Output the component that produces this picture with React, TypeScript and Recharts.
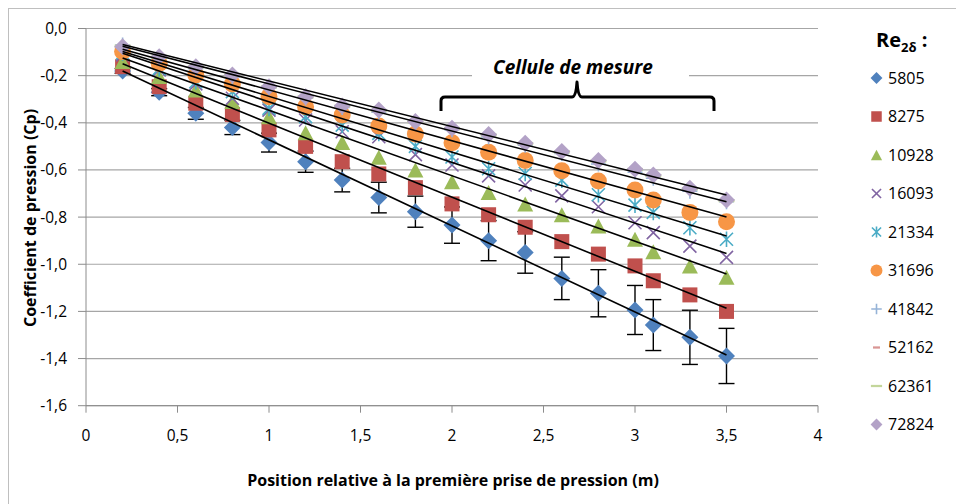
import React from 'react';
import { ComposedChart, Scatter, XAxis, YAxis, CartesianGrid, ErrorBar } from 'recharts';

const positions = [0.2, 0.4, 0.6, 0.8, 1.0, 1.2, 1.4, 1.6, 1.8, 2.0, 2.2, 2.4, 2.6, 2.8, 3.0, 3.1, 3.3, 3.5];

const cp5805 = [-0.18, -0.27, -0.36, -0.42, -0.484, -0.565, -0.643, -0.717, -0.777, -0.834, -0.9, -0.95, -1.06, -1.123, -1.194, -1.258, -1.31, -1.389];
const err5805 = [0.01, 0.015, 0.025, 0.03, 0.04, 0.045, 0.05, 0.065, 0.066, 0.077, 0.085, 0.088, 0.09, 0.1, 0.104, 0.108, 0.115, 0.117];
const cp8275 = [-0.162, -0.247, -0.317, -0.365, -0.43, -0.5, -0.565, -0.617, -0.675, -0.744, -0.79, -0.843, -0.904, -0.957, -1.007, -1.07, -1.13, -1.2];
const cp10928 = [-0.14, -0.204, -0.261, -0.31, -0.374, -0.442, -0.484, -0.546, -0.6, -0.65, -0.696, -0.744, -0.79, -0.838, -0.894, -0.947, -1.007, -1.055];
const cp16093 = [-0.112, -0.176, -0.235, -0.296, -0.346, -0.388, -0.438, -0.459, -0.535, -0.579, -0.625, -0.664, -0.71, -0.756, -0.824, -0.866, -0.923, -0.971];
const cp21334 = [-0.104, -0.17, -0.226, -0.268, -0.339, -0.374, -0.41, -0.445, -0.5, -0.545, -0.595, -0.615, -0.643, -0.705, -0.749, -0.78, -0.845, -0.894];
const cp31696 = [-0.098, -0.148, -0.197, -0.235, -0.289, -0.332, -0.367, -0.414, -0.448, -0.485, -0.525, -0.56, -0.603, -0.647, -0.685, -0.727, -0.78, -0.82];
const cp41842 = [-0.07, -0.125, -0.17, -0.205, -0.25, -0.295, -0.335, -0.355, -0.4, -0.43, -0.46, -0.495, -0.53, -0.575, -0.61, -0.635, -0.69, -0.735];
const cp52162 = [-0.08, -0.125, -0.165, -0.2, -0.25, -0.292, -0.332, -0.35, -0.398, -0.426, -0.455, -0.49, -0.525, -0.565, -0.6, -0.628, -0.685, -0.735];
const cp62361 = [-0.075, -0.122, -0.163, -0.198, -0.248, -0.29, -0.33, -0.348, -0.396, -0.424, -0.452, -0.488, -0.523, -0.562, -0.598, -0.624, -0.68, -0.73];
const cp72824 = [-0.077, -0.12, -0.162, -0.197, -0.247, -0.289, -0.329, -0.346, -0.395, -0.423, -0.45, -0.487, -0.522, -0.56, -0.597, -0.621, -0.678, -0.727];

const trendX = [0.2, 3.5];
const trendStart = [-0.18, -0.15, -0.125, -0.105, -0.098, -0.088, -0.075, -0.068];
const trendEnd = [-1.385, -1.187, -1.041, -0.954, -0.88, -0.8, -0.735, -0.706];

const reynolds = ['5805', '8275', '10928', '16093', '21334', '31696', '41842', '52162', '62361', '72824'];
const colors = ['#4F81BD', '#C0504D', '#9BBB59', '#8064A2', '#4BACC6', '#F79646', '#95B3D7', '#D99694', '#C3D69B', '#B3A2C7'];
const markerKinds = ['diamond', 'square', 'triangle', 'x', 'star', 'circle', 'plus', 'dash', 'dash', 'diamond'];

const xTicks = [0, 0.5, 1, 1.5, 2, 2.5, 3, 3.5, 4];
const yTicks = [0, -0.2, -0.4, -0.6, -0.8, -1.0, -1.2, -1.4, -1.6];

const seriesValues = [cp5805, cp8275, cp10928, cp16093, cp21334, cp31696, cp41842, cp52162, cp62361, cp72824];

const FONT = '"Open Sans", "Liberation Sans", sans-serif';

function drawMarker(kind: string, color: string, cx: number, cy: number, s = 1, wide = false) {
  switch (kind) {
    case 'diamond': {
      const r = 8.5 * s;
      return <path d={`M${cx},${cy - r}L${cx + r},${cy}L${cx},${cy + r}L${cx - r},${cy}Z`} fill={color} />;
    }
    case 'square': {
      const h = 7.5 * s;
      return <rect x={cx - h} y={cy - h} width={2 * h} height={2 * h} fill={color} />;
    }
    case 'triangle': {
      const w = 8 * s;
      const h = 7.5 * s;
      return <path d={`M${cx},${cy - h}L${cx + w},${cy + h}L${cx - w},${cy + h}Z`} fill={color} />;
    }
    case 'circle':
      return <circle cx={cx} cy={cy} r={8.5 * s} fill={color} />;
    case 'x': {
      const h = 6.5 * s;
      return <path d={`M${cx - h},${cy - h}L${cx + h},${cy + h}M${cx - h},${cy + h}L${cx + h},${cy - h}`} stroke={color} strokeWidth={1.6} fill="none" />;
    }
    case 'star': {
      const h = 6.5 * s;
      return <path d={`M${cx - h},${cy - h}L${cx + h},${cy + h}M${cx - h},${cy + h}L${cx + h},${cy - h}M${cx},${cy - h * 1.2}L${cx},${cy + h * 1.2}`} stroke={color} strokeWidth={1.6} fill="none" />;
    }
    case 'plus': {
      const h = 7.5 * s;
      return <path d={`M${cx - h},${cy}L${cx + h},${cy}M${cx},${cy - h}L${cx},${cy + h}`} stroke={color} strokeWidth={1.6} fill="none" />;
    }
    case 'dash': {
      const w = (wide ? 8 : 5) * s;
      return <rect x={cx - w} y={cy - 1.6 * s} width={2 * w} height={3.2 * s} fill={color} />;
    }
    default:
      return <g />;
  }
}

const makeShape = (kind: string, color: string, wide: boolean) => (p: any) => {
  if (p == null || p.cx == null || p.cy == null) return <g />;
  return drawMarker(kind, color, p.cx, p.cy, 1, wide);
};

const seriesData = seriesValues.map((vals, si) =>
  positions.map((x, i) => ({ x, y: vals[i], err: si === 0 ? err5805[i] : 0 }))
);

const trendData = trendStart.map((st, i) => [
  { x: trendX[0], y: st },
  { x: trendX[1], y: trendEnd[i] },
]);

const fmtY = (v: number) => (Math.abs(v) < 1e-9 ? '0,0' : v.toFixed(1).replace('.', ','));
const fmtX = (v: number) => String(v).replace('.', ',');

export default function App() {
  const W = 940;
  const H = 480;
  return (
    <div style={{ position: 'relative', width: 948, height: 496, border: '1px solid #bfbfbf', background: '#fff', fontFamily: FONT }}>
      <div style={{ position: 'absolute', left: 0, top: 0 }}>
        <ComposedChart width={W} height={H} margin={{ top: 19.5, right: 131, left: 0, bottom: 53.3 }}>
          <CartesianGrid horizontal={true} vertical={false} stroke="#a6a6a6" strokeWidth={1.2} />
          <XAxis
            type="number"
            dataKey="x"
            domain={[0, 4]}
            ticks={xTicks}
            tickFormatter={fmtX}
            allowDataOverflow
            height={30}
            tickSize={7}
            tickMargin={17}
            stroke="#8c8c8c"
            tick={{ fill: '#000', fontSize: 15.5, fontFamily: FONT }}
          />
          <YAxis
            type="number"
            dataKey="y"
            domain={[-1.6, 0]}
            ticks={yTicks}
            tickFormatter={fmtY}
            allowDataOverflow
            width={77}
            tickSize={8}
            tickMargin={11}
            stroke="#8c8c8c"
            tick={{ fill: '#000', fontSize: 15.5, fontFamily: FONT }}
          />
          {seriesData.map((d, si) => (
            <Scatter
              key={reynolds[si]}
              name={reynolds[si]}
              data={d}
              dataKey="y"
              isAnimationActive={false}
              shape={makeShape(markerKinds[si], colors[si], si === 8)}
            >
              {si === 0 ? (
                <ErrorBar dataKey="err" direction="y" width={8} stroke="#000" strokeWidth={1.4} />
              ) : null}
            </Scatter>
          ))}
          {trendData.map((d, i) => (
            <Scatter
              key={'trend' + i}
              data={d}
              dataKey="y"
              isAnimationActive={false}
              line={{ stroke: '#000', strokeWidth: 1.6 }}
              shape={() => <g />}
            />
          ))}
        </ComposedChart>
      </div>
      <svg width={948} height={496} style={{ position: 'absolute', left: 0, top: 0, pointerEvents: 'none' }}>
        <rect x={463} y={52} width={217} height={28} fill="#fff" />
        <text x={564} y={65} textAnchor="middle" fontFamily={FONT} fontSize={19} fontWeight="bold" fontStyle="italic" fill="#000">
          Cellule de mesure
        </text>
        <path
          d="M432,102 L432,92 Q432,88 436,88 L563,88 Q567,88 568,73 Q569,88 573,88 L701,88 Q705,88 705,92 L705,102"
          stroke="#000"
          strokeWidth={3}
          fill="none"
          strokeLinejoin="round"
        />
        <text
          transform="translate(27,209) rotate(-90)"
          textAnchor="middle"
          fontFamily={FONT}
          fontSize={16}
          fontWeight="bold"
          fill="#000"
        >
          Coefficient de pression (Cp)
        </text>
        <text x={444} y={477} textAnchor="middle" fontFamily={FONT} fontSize={16} fontWeight="bold" fill="#000">
          Position relative à la première prise de pression (m)
        </text>
        <text x={867} y={38} fontFamily={FONT} fontSize={20} fontWeight="bold" fill="#000">
          Re
          <tspan fontSize={13} dy={5}>2δ</tspan>
          <tspan dy={-5}> :</tspan>
        </text>
        {reynolds.map((r, i) => {
          const cy = 69 + i * 38.5;
          return (
            <g key={r}>
              {drawMarker(markerKinds[i], colors[i], 867.5, cy, 0.7, i === 8)}
              <text x={879} y={cy + 5.5} fontFamily={FONT} fontSize={16} fill="#000">
                {r}
              </text>
            </g>
          );
        })}
      </svg>
    </div>
  );
}
